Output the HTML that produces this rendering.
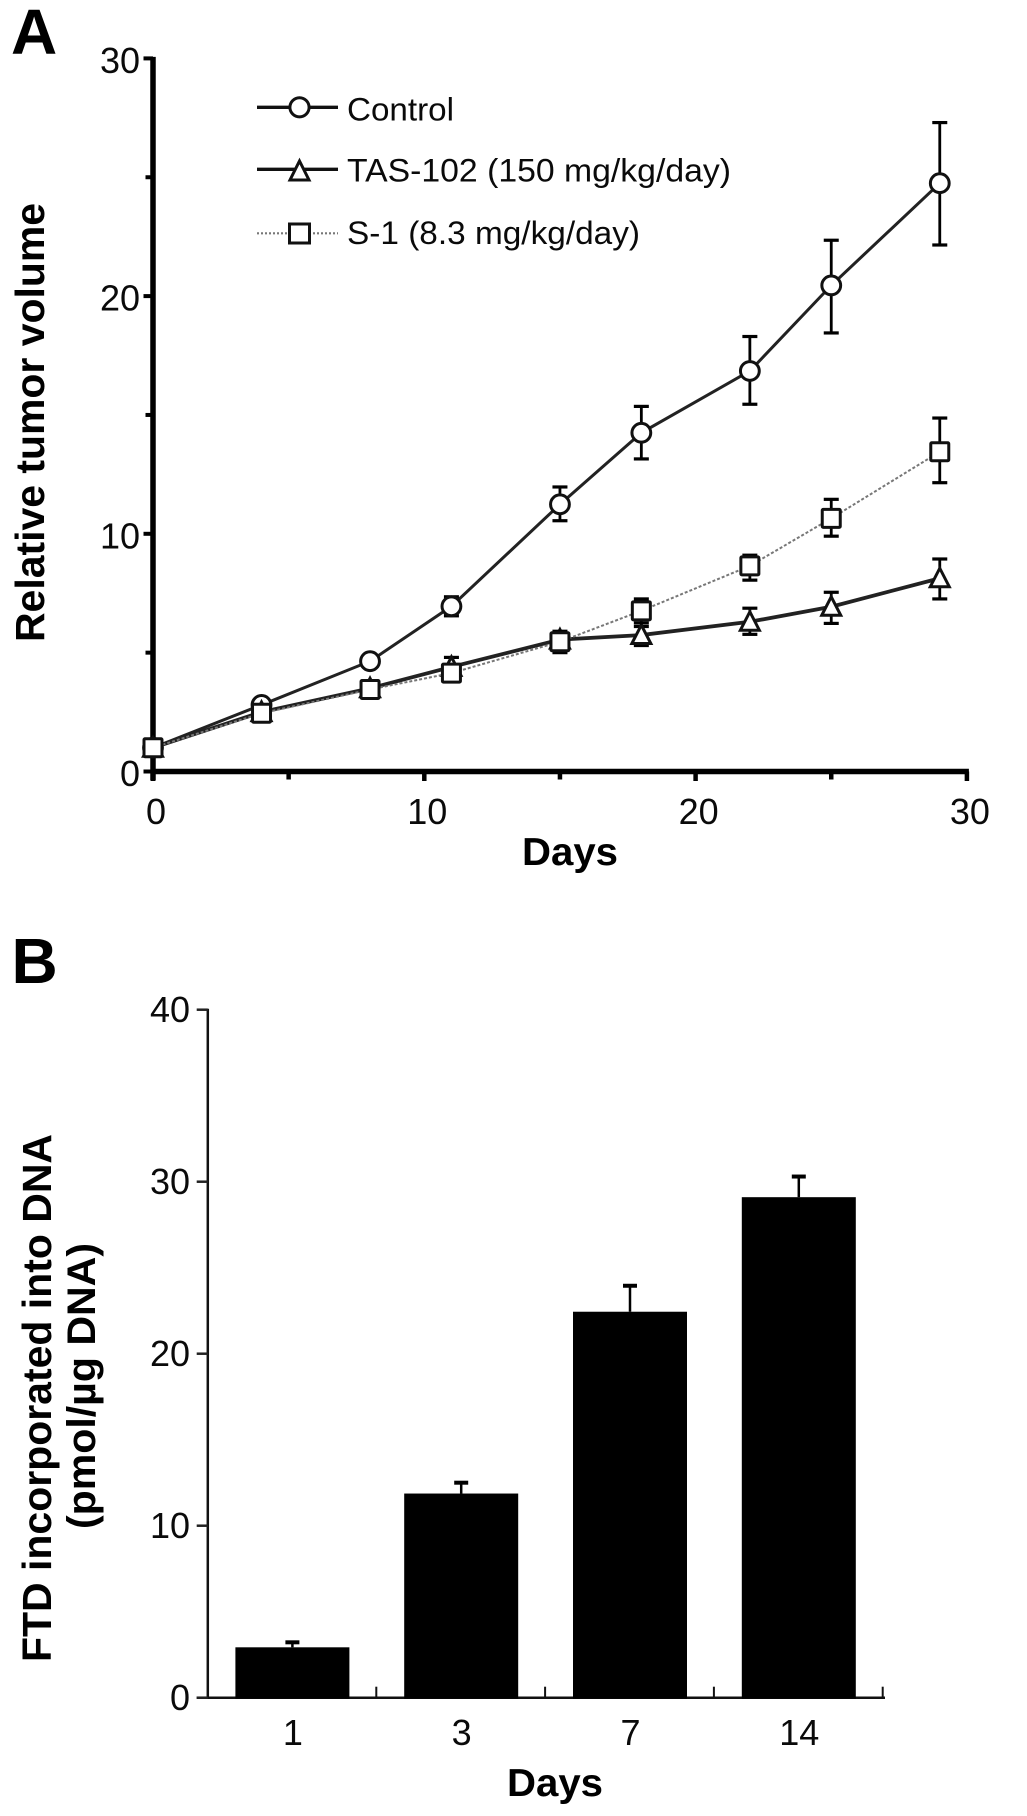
<!DOCTYPE html>
<html lang="en">
<head>
<meta charset="utf-8">
<title>Relative tumor volume and FTD incorporation</title>
<style>
html,body{margin:0;padding:0;background:#fff;}
svg{display:block;}
text{font-family:"Liberation Sans",Arial,sans-serif;fill:#0a0a0a;}
.bold{font-weight:bold;fill:#000;}
</style>
</head>
<body>
<svg id="fig" xmlns="http://www.w3.org/2000/svg" width="1027" height="1816" viewBox="0 0 1027 1816">
  <rect x="0" y="0" width="1027" height="1816" fill="#fff"/>

  <text class="bold" x="11" y="54" font-size="64">A</text>
  <text class="bold" x="11.5" y="983" font-size="64">B</text>

  <g id="panelA"></g>
  <text class="bold" transform="translate(44,642) rotate(-90)" font-size="41" textLength="439" lengthAdjust="spacingAndGlyphs">Relative tumor volume</text>
  <text class="bold" x="522" y="865" font-size="39" textLength="96" lengthAdjust="spacingAndGlyphs">Days</text>

  <g>
    <line x1="257" x2="338" y1="107.3" y2="107.3" stroke="#111" stroke-width="3.4"/>
    <circle cx="299.5" cy="107.3" r="9.6" fill="#fff" stroke="#111" stroke-width="3"/>
    <text x="347" y="120.5" font-size="32" textLength="107" lengthAdjust="spacingAndGlyphs">Control</text>
    <line x1="257" x2="338" y1="169.3" y2="169.3" stroke="#111" stroke-width="3.4"/>
    <polygon points="299.5,161 309,180 290,180" fill="#fff" stroke="#111" stroke-width="3"/>
    <text x="347" y="181.5" font-size="32" textLength="384" lengthAdjust="spacingAndGlyphs">TAS-102 (150 mg/kg/day)</text>
    <line x1="257" x2="338" y1="233.3" y2="233.3" stroke="#777" stroke-width="2.2" stroke-dasharray="2 2"/>
    <rect x="289.5" y="224" width="20" height="19" fill="#fff" stroke="#111" stroke-width="3"/>
    <text x="347" y="244" font-size="32" textLength="293" lengthAdjust="spacingAndGlyphs">S-1 (8.3 mg/kg/day)</text>
  </g>

  <g id="panelB"></g>
  <text class="bold" transform="translate(51,1662) rotate(-90)" font-size="41" textLength="528" lengthAdjust="spacingAndGlyphs">FTD incorporated into DNA</text>
  <text class="bold" transform="translate(95,1529) rotate(-90)" font-size="40" textLength="286" lengthAdjust="spacingAndGlyphs">(pmol/µg DNA)</text>
  <text class="bold" x="507" y="1796" font-size="39" textLength="96" lengthAdjust="spacingAndGlyphs">Days</text>
</svg>

<script>
// ---- Panel A data ----
const daysA = [0, 4, 8, 11, 15, 18, 22, 25, 29];
const controlMean = [1, 2.8, 4.64, 6.95, 11.24, 14.25, 16.85, 20.45, 24.75];
const controlUpper = [1, 2.95, 4.85, 7.35, 11.97, 15.36, 18.3, 22.35, 27.3];
const controlLower = [1, 2.65, 4.45, 6.55, 10.55, 13.15, 15.45, 18.45, 22.15];
const tasMean = [1, 2.5, 3.5, 4.4, 5.55, 5.74, 6.3, 6.93, 8.13];
const tasUpper = [1, 2.7, 3.7, 4.8, 5.85, 6.1, 6.87, 7.54, 8.94];
const tasLower = [1, 2.3, 3.3, 4.0, 5.25, 5.3, 5.77, 6.23, 7.26];
const s1Mean = [1, 2.45, 3.45, 4.14, 5.46, 6.76, 8.65, 10.65, 13.45];
const s1Upper = [1, 2.8, 3.65, 4.45, 5.9, 7.26, 9.1, 11.45, 14.87];
const s1Lower = [1, 2.1, 3.25, 3.8, 5.0, 6.25, 8.05, 9.9, 12.15];
const yTicksA = [0, 10, 20, 30];
const yMinorTicksA = [5, 15, 25];
const xTicksA = [0, 10, 20, 30];
const xMinorTicksA = [5, 15, 25];

// ---- Panel B data ----
const categoriesB = ['1', '3', '7', '14'];
const barValues = [2.93, 11.87, 22.44, 29.1];
const barErrorTops = [3.22, 12.5, 23.95, 30.3];
const yTicksB = [0, 10, 20, 30, 40];

const NS = 'http://www.w3.org/2000/svg';
const panelA = document.getElementById('panelA');
const panelB = document.getElementById('panelB');

function xA(d) { return 153 + d * 27.13; }
function yA(v) { return 771.5 - v * 23.77; }
function yB(v) { return 1697.7 - v * 17.2; }
function bandB(i) { return 208 + i * 168.8; }

function make(parent, tag, attrs, name, text) {
  const el = document.createElementNS(NS, tag);
  for (const k in attrs) el.setAttribute(k, attrs[k]);
  
  
  if (text !== undefined) el.textContent = text;
  parent.appendChild(el);
  return el;
}
function line(parent, x1, y1, x2, y2, stroke, w, name) {
  return make(parent, 'line', { x1: x1, y1: y1, x2: x2, y2: y2, stroke: stroke, 'stroke-width': w }, name);
}

// Panel A axes
line(panelA, 153, yA(30) - 1.5, 153, yA(0) + 9, '#000', 5.5, 'a-y-axis');
line(panelA, 153, yA(0), xA(30) + 2, yA(0), '#000', 5.5, 'a-x-axis');
yTicksA.forEach(function (v) {
  line(panelA, 143.5, yA(v), 153, yA(v), '#000', 4, 'a-y-tick-' + v);
  make(panelA, 'text', { x: 140, y: yA(v) + 14.5, 'font-size': 36, 'text-anchor': 'end' }, 'a-y-tick-label-' + v, String(v));
});
yMinorTicksA.forEach(function (v) {
  line(panelA, 145.5, yA(v), 153, yA(v), '#000', 4, 'a-y-minor-tick-' + v);
});
xTicksA.forEach(function (v) {
  line(panelA, xA(v), yA(0), xA(v), yA(0) + 9.5, '#000', 4.5, 'a-x-tick-' + v);
  make(panelA, 'text', { x: xA(v) + 3, y: 824, 'font-size': 36, 'text-anchor': 'middle' }, 'a-x-tick-label-' + v, String(v));
});
xMinorTicksA.forEach(function (v) {
  line(panelA, xA(v), yA(0), xA(v), yA(0) + 8, '#000', 4.5, 'a-x-minor-tick-' + v);
});

// Panel A series
function drawSeries(key, mean, upper, lower, stroke, width, dash, marker) {
  const g = make(panelA, 'g', {}, 'series-' + key);
  const pts = daysA.map(function (d, i) { return xA(d) + ',' + yA(mean[i]); }).join(' ');
  const attrs = { points: pts, fill: 'none', stroke: stroke, 'stroke-width': width };
  if (dash) attrs['stroke-dasharray'] = dash;
  make(g, 'polyline', attrs, key + '-line');
  daysA.forEach(function (d, i) {
    if (upper[i] === lower[i]) return;
    const x = xA(d);
    line(g, x, yA(upper[i]), x, yA(lower[i]), '#000', 2.8, key + '-error-bar-day-' + d);
    line(g, x - 7.5, yA(upper[i]), x + 7.5, yA(upper[i]), '#000', 3.2, key + '-error-cap-top-day-' + d);
    line(g, x - 7.5, yA(lower[i]), x + 7.5, yA(lower[i]), '#000', 3.2, key + '-error-cap-bottom-day-' + d);
  });
  daysA.forEach(function (d, i) {
    const x = xA(d), y = yA(mean[i]);
    const st = { fill: '#fff', stroke: '#111', 'stroke-width': 3 };
    if (marker === 'circle') {
      make(g, 'circle', Object.assign({ cx: x, cy: y, r: 9.4 }, st), key + '-point-day-' + d);
    } else if (marker === 'square') {
      make(g, 'rect', Object.assign({ x: x - 9, y: y - 9, width: 18, height: 18, rx: 1 }, st), key + '-point-day-' + d);
    } else {
      const p = x + ',' + (y - 10) + ' ' + (x + 9.5) + ',' + (y + 8.5) + ' ' + (x - 9.5) + ',' + (y + 8.5);
      make(g, 'polygon', Object.assign({ points: p }, st), key + '-point-day-' + d);
    }
  });
}
drawSeries('control', controlMean, controlUpper, controlLower, '#222', 3, null, 'circle');
drawSeries('tas-102', tasMean, tasUpper, tasLower, '#222', 3.8, null, 'triangle');
drawSeries('s-1', s1Mean, s1Upper, s1Lower, '#777', 2, '3 2', 'square');

// Panel B axes
line(panelB, 207.8, yB(40) - 1, 207.8, yB(0) + 1, '#111', 2.5, 'b-y-axis');
line(panelB, 196.7, yB(0), 885, yB(0), '#111', 2.5, 'b-x-axis');
yTicksB.forEach(function (v) {
  line(panelB, 196.7, yB(v), 207.8, yB(v), '#222', 2.5, 'b-y-tick-' + v);
  make(panelB, 'text', { x: 190, y: yB(v) + 12.3, 'font-size': 36, 'text-anchor': 'end' }, 'b-y-tick-label-' + v, String(v));
});
categoriesB.forEach(function (c, i) {
  const right = bandB(i + 1);
  line(panelB, right - 0.5, yB(0) - 11, right - 0.5, yB(0), '#111', 2, 'b-x-tick-' + c);
  const cx = bandB(i) + 84.4;
  const err = barErrorTops[i];
  line(panelB, cx, yB(err), cx, yB(barValues[i]), '#000', 2.5, 'b-error-bar-day-' + c);
  line(panelB, cx - 7, yB(err), cx + 7, yB(err), '#000', 4, 'b-error-cap-day-' + c);
  make(panelB, 'rect', { x: cx - 57, y: yB(barValues[i]), width: 114, height: yB(0) - yB(barValues[i]) + 1, fill: '#000' }, 'bar-day-' + c);
  make(panelB, 'text', { x: cx + 0.5, y: 1745, 'font-size': 36, 'text-anchor': 'middle' }, 'b-x-tick-label-' + c, c);
});
</script>
</body>
</html>
